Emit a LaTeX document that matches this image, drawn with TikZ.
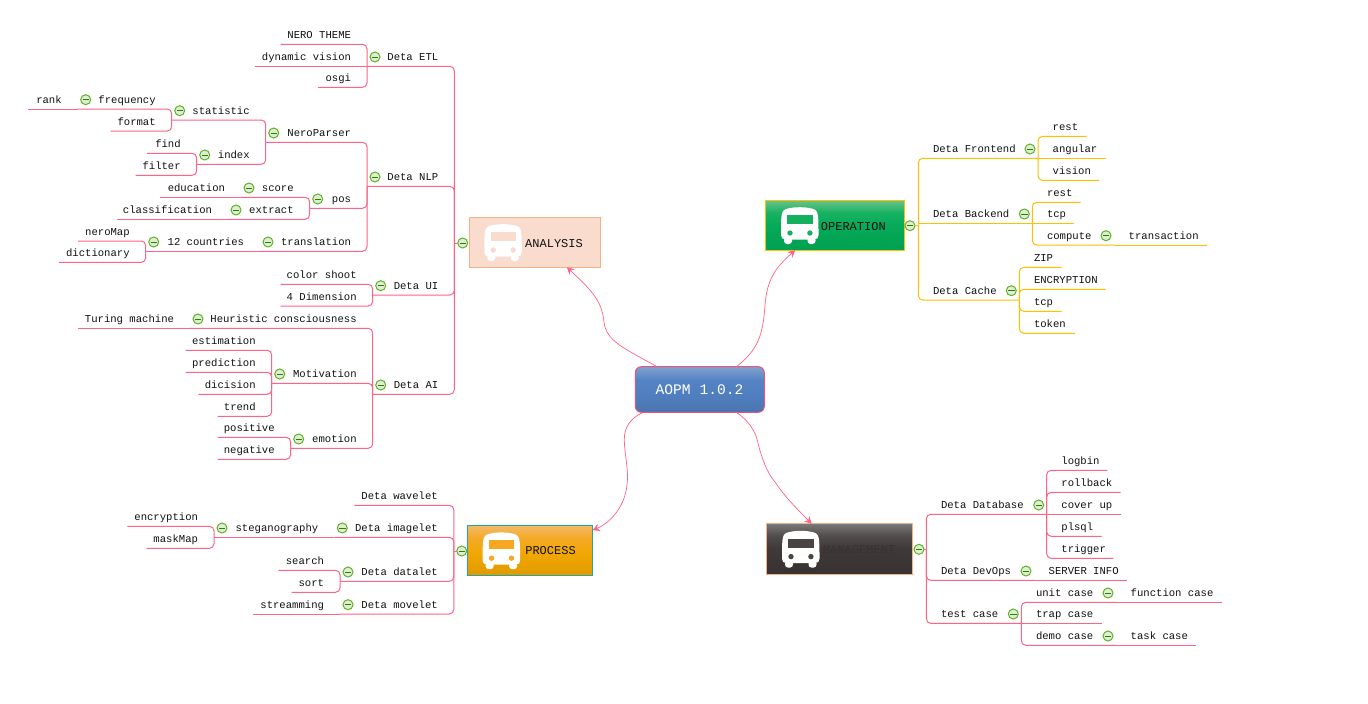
\documentclass[tikz,border=0pt]{standalone}
\usepackage{fontspec}
\setmainfont{Liberation Mono}
\usetikzlibrary{arrows.meta}
\definecolor{linkpink}{HTML}{FF6386}
\definecolor{linkorange}{HTML}{FFC000}
\definecolor{markgreen}{HTML}{62B02A}
\definecolor{markfill}{HTML}{DDEFD0}
\definecolor{markdash}{HTML}{2F7A12}
\definecolor{inktext}{HTML}{111111}
\definecolor{peachfill}{HTML}{F9DCCE}
\definecolor{peachline}{HTML}{F4B183}
\definecolor{opwin}{HTML}{14B060}
\definecolor{procwin}{HTML}{F6A821}
\definecolor{procline}{HTML}{1FA5A5}
\definecolor{mgmtwin}{HTML}{4A4443}
\definecolor{rootline}{HTML}{E8557A}
\definecolor{rootA}{HTML}{4A74B0}
\definecolor{rootB}{HTML}{507FC0}
\definecolor{rootC}{HTML}{5482C2}
\definecolor{rootD}{HTML}{80A2D2}
\definecolor{opA}{HTML}{00A050}
\definecolor{opB}{HTML}{06AA58}
\definecolor{opC}{HTML}{18B262}
\definecolor{opD}{HTML}{68C288}
\definecolor{prA}{HTML}{E09A00}
\definecolor{prB}{HTML}{F0A600}
\definecolor{prC}{HTML}{F5AA28}
\definecolor{prD}{HTML}{F2BA68}
\definecolor{mgA}{HTML}{383332}
\definecolor{mgB}{HTML}{3E3837}
\definecolor{mgC}{HTML}{504C4B}
\definecolor{mgD}{HTML}{7A7878}
\pgfdeclareverticalshading{rootgrad}{100bp}{color(0bp)=(rootA);color(25bp)=(rootA);color(45bp)=(rootB);color(60bp)=(rootC);color(75bp)=(rootD);color(100bp)=(rootD)}
\pgfdeclareverticalshading{opgrad}{100bp}{color(0bp)=(opA);color(25bp)=(opA);color(50bp)=(opB);color(63bp)=(opC);color(75bp)=(opD);color(100bp)=(opD)}
\pgfdeclareverticalshading{procgrad}{100bp}{color(0bp)=(prA);color(25bp)=(prA);color(45bp)=(prB);color(63bp)=(prC);color(75bp)=(prD);color(100bp)=(prD)}
\pgfdeclareverticalshading{mgmtgrad}{100bp}{color(0bp)=(mgA);color(25bp)=(mgA);color(50bp)=(mgB);color(63bp)=(mgC);color(75bp)=(mgD);color(100bp)=(mgD)}
\tikzset{
  x=1pt,y=-1pt,
  topicnode/.style={inner sep=0pt,outer sep=0pt,anchor=south,text height=10pt,text depth=6pt,font=\fontsize{10.6}{12}\selectfont,text=inktext},
  collapse/.style={circle,draw=markgreen,line width=1pt,fill=markfill,minimum size=10pt,inner sep=0pt,outer sep=0pt,
    path picture={\draw[markdash,line width=1pt] ([xshift=-3.2pt]path picture bounding box.center) -- ([xshift=3.2pt]path picture bounding box.center);}},
  pinklink/.style={draw=linkpink,line width=1pt,rounded corners=4.5pt},
  orangelink/.style={draw=linkorange,line width=1pt,rounded corners=4.5pt},
  relation/.style={draw=linkpink,line width=0.7pt,-{Stealth[length=7pt,width=7.5pt]}},
  boxnode/.style={inner sep=0pt,outer sep=0pt,line width=1pt,font=\fontsize{12}{14}\selectfont,text=inktext},
  pics/busicon/.style={code={
    \fill[white,rounded corners=3pt] (3,30) rectangle (11,37);
    \fill[white,rounded corners=3pt] (26.5,30) rectangle (34.5,37);
    \fill[white] (0,28) .. controls (0,6) and (0,3) .. (7,1.5) .. controls (15,-0.3) and (22.5,-0.3) .. (30.5,1.5) .. controls (37.5,3) and (37.5,6) .. (37.5,28) .. controls (37.5,31) and (36,32.5) .. (33,32.5) -- (4.5,32.5) .. controls (1.5,32.5) and (0,31) .. (0,28) -- cycle;
    \fill[#1] (6.3,8) rectangle (31.7,17);
    \fill[#1] (9,26) circle (2.7);
    \fill[#1] (28.9,26) circle (2.7);
  }}
}
% left-side topic: name, x1, x2, y, text (text ends 16 short of x2)
\newcommand{\ltopic}[5]{%
  \pgfmathsetlengthmacro{\tw}{(#3)-(#2)}\pgfmathsetmacro{\tc}{((#2)+(#3))/2}%
  \node[topicnode] (#1) at (\tc,#4) {\hbox to \tw{\hss #5\hskip 16pt\relax}};}
% right-side topic: text starts 14.7 after x1
\newcommand{\rtopic}[5]{%
  \pgfmathsetlengthmacro{\tw}{(#3)-(#2)}\pgfmathsetmacro{\tc}{((#2)+(#3))/2}%
  \node[topicnode] (#1) at (\tc,#4) {\hbox to \tw{\hskip 14.7pt\relax #5\hss}};}
% collapse marker sitting at a topic's inner end
\newcommand{\lmark}[1]{\node[collapse,xshift=8pt,yshift=9.3pt] (#1-m) at (#1.south west) {};}
\newcommand{\rmark}[1]{\node[collapse,xshift=-8pt,yshift=9.3pt] (#1-m) at (#1.south east) {};}
% elbow links, and straight links for a child on its parent's line
\newcommand{\llink}[2]{\draw[pinklink] (#1.south west) -| (#2);}
\newcommand{\lline}[2]{\draw[pinklink] (#1.south west) -- (#2.south west);}
\newcommand{\rlink}[3][pinklink]{\draw[#1] (#2.south east) -| (#3);}
\newcommand{\rline}[3][pinklink]{\draw[#1] (#2.south east) -- (#3.south east);}
\begin{document}
\begin{tikzpicture}
\useasboundingbox (0,0) rectangle (1368,704);
\fill[white] (0,0) rectangle (1368,704);

% ---------- ANALYSIS ----------
\coordinate (antrunk) at (454.3,243);
\ltopic{etl}{367}{454.3}{66.3}{Deta ETL}
\ltopic{nero}{280.7}{367}{44.3}{NERO THEME}
\ltopic{dyn}{255}{367}{66.3}{dynamic vision}
\ltopic{osgi}{318}{367}{87.3}{osgi}
\ltopic{nlp}{367}{454.3}{186.3}{Deta NLP}
\ltopic{parser}{265.7}{367}{142.3}{NeroParser}
\ltopic{stat}{171.7}{265.7}{120}{statistic}
\ltopic{freq}{77.7}{171.7}{109}{frequency}
\ltopic{rank}{28.3}{77.7}{109}{rank}
\ltopic{format}{110.7}{171.7}{131}{format}
\ltopic{index}{196.7}{265.7}{164.3}{index}
\ltopic{find}{147}{196.7}{153.3}{find}
\ltopic{filter}{135.7}{196.7}{175.3}{filter}
\ltopic{pos}{309.7}{367}{208.3}{pos}
\ltopic{score}{241}{309.7}{197.3}{score}
\ltopic{educ}{160}{241}{197.3}{education}
\ltopic{extract}{228}{309.7}{219.3}{extract}
\ltopic{classif}{116.7}{228}{219.3}{classification}
\ltopic{transl}{260}{367}{251.3}{translation}
\ltopic{countries}{145.7}{260}{251.3}{12 countries}
\ltopic{neromap}{78}{145.7}{241}{neroMap}
\ltopic{dict}{59}{145.7}{262.3}{dictionary}
\ltopic{dui}{372.7}{454.3}{295}{Deta UI}
\ltopic{color}{280.7}{372.7}{284.3}{color shoot}
\ltopic{dim}{280.7}{372.7}{306}{4 Dimension}
\ltopic{dai}{372.7}{454.3}{394.3}{Deta AI}
\ltopic{heur}{190}{372.7}{328.3}{Heuristic consciousness}
\ltopic{turing}{78.3}{190}{328.3}{Turing machine}
\ltopic{motiv}{271.7}{372.7}{383.3}{Motivation}
\ltopic{estim}{185.7}{271.7}{350.3}{estimation}
\ltopic{pred}{185.7}{271.7}{372.3}{prediction}
\ltopic{dicis}{198.3}{271.7}{394.3}{dicision}
\ltopic{trend}{217.7}{271.7}{416.3}{trend}
\ltopic{emotion}{290.7}{372.7}{448.3}{emotion}
\ltopic{posit}{217.7}{290.7}{437.3}{positive}
\ltopic{negat}{217.7}{290.7}{459.3}{negative}

\llink{etl}{antrunk}\llink{nlp}{antrunk}\llink{dui}{antrunk}\llink{dai}{antrunk}
\llink{nero}{etl.south west}\lline{dyn}{etl}\llink{osgi}{etl.south west}
\llink{parser}{nlp.south west}\llink{pos}{nlp.south west}\llink{transl}{nlp.south west}
\llink{stat}{parser.south west}\llink{index}{parser.south west}
\llink{freq}{stat.south west}\llink{format}{stat.south west}
\lline{rank}{freq}
\llink{find}{index.south west}\llink{filter}{index.south west}
\llink{score}{pos.south west}\llink{extract}{pos.south west}
\lline{educ}{score}\lline{classif}{extract}
\lline{countries}{transl}
\llink{neromap}{countries.south west}\llink{dict}{countries.south west}
\llink{color}{dui.south west}\llink{dim}{dui.south west}
\llink{heur}{dai.south west}\llink{motiv}{dai.south west}\llink{emotion}{dai.south west}
\lline{turing}{heur}
\llink{estim}{motiv.south west}\llink{pred}{motiv.south west}\llink{dicis}{motiv.south west}\llink{trend}{motiv.south west}
\llink{posit}{emotion.south west}\llink{negat}{emotion.south west}

\lmark{etl}\lmark{nlp}\lmark{parser}\lmark{stat}\lmark{freq}\lmark{index}\lmark{pos}\lmark{score}\lmark{extract}\lmark{transl}\lmark{countries}\lmark{dui}\lmark{dai}\lmark{heur}\lmark{motiv}\lmark{emotion}

% ---------- PROCESS ----------
\coordinate (prtrunk) at (453.8,551);
\ltopic{wave}{354.3}{453.8}{505.3}{Deta wavelet}
\ltopic{image}{334.3}{453.8}{537.3}{Deta imagelet}
\ltopic{stega}{214}{334.3}{537.3}{steganography}
\ltopic{encr}{127.3}{214}{526.3}{encryption}
\ltopic{mask}{146.7}{214}{548.3}{maskMap}
\ltopic{datal}{340}{453.8}{581.3}{Deta datalet}
\ltopic{search}{278.3}{340}{570.3}{search}
\ltopic{sort}{291.7}{340}{592.3}{sort}
\ltopic{movel}{340}{453.8}{614}{Deta movelet}
\ltopic{stream}{253.3}{340}{614}{streamming}
\llink{wave}{prtrunk}\llink{image}{prtrunk}\llink{datal}{prtrunk}\llink{movel}{prtrunk}
\lline{stega}{image}
\llink{encr}{stega.south west}\llink{mask}{stega.south west}
\llink{search}{datal.south west}\llink{sort}{datal.south west}
\lline{stream}{movel}
\lmark{image}\lmark{stega}\lmark{datal}\lmark{movel}

% ---------- OPERATION ----------
\coordinate (optrunk) at (918.3,225.5);
\rtopic{front}{918.3}{1038}{158.3}{Deta Frontend}
\rtopic{rest}{1038}{1086.7}{136.3}{rest}
\rtopic{angular}{1038}{1105.7}{158.3}{angular}
\rtopic{vision}{1038}{1099.3}{180.3}{vision}
\rtopic{back}{918.3}{1032.3}{223.3}{Deta Backend}
\rtopic{restb}{1032.3}{1080.7}{202.3}{rest}
\rtopic{tcp}{1032.3}{1074.3}{223.3}{tcp}
\rtopic{compute}{1032.3}{1114}{245}{compute}
\rtopic{trans}{1114}{1206.7}{245}{transaction}
\rtopic{cache}{918.3}{1019.3}{300}{Deta Cache}
\rtopic{zip}{1019.3}{1061.7}{267.3}{ZIP}
\rtopic{encryp}{1019.3}{1105.7}{289.3}{ENCRYPTION}
\rtopic{tcpb}{1019.3}{1061.7}{311.3}{tcp}
\rtopic{token}{1019.3}{1075}{333.3}{token}
\rlink[orangelink]{front}{optrunk}\draw[orangelink] (back.south east) -- (back.south west);\rlink[orangelink]{cache}{optrunk}
\rlink[orangelink]{rest}{front.south east}\rline[orangelink]{angular}{front}\rlink[orangelink]{vision}{front.south east}
\rlink[orangelink]{restb}{back.south east}\rline[orangelink]{tcp}{back}\rlink[orangelink]{compute}{back.south east}
\rline[orangelink]{trans}{compute}
\rlink[orangelink]{zip}{cache.south east}\rlink[orangelink]{encryp}{cache.south east}\rlink[orangelink]{tcpb}{cache.south east}\rlink[orangelink]{token}{cache.south east}
\rmark{front}\rmark{back}\rmark{compute}\rmark{cache}

% ---------- MANAGEMENT ----------
\coordinate (mgtrunk) at (926.3,549.3);
\rtopic{dbase}{926.3}{1046.7}{514.3}{Deta Database}
\rtopic{logbin}{1046.7}{1107.3}{470.3}{logbin}
\rtopic{rollb}{1046.7}{1120.7}{492.3}{rollback}
\rtopic{coverup}{1046.7}{1120.7}{514.3}{cover up}
\rtopic{plsql}{1046.7}{1101.7}{536.3}{plsql}
\rtopic{trigger}{1046.7}{1113.3}{558.3}{trigger}
\rtopic{devops}{926.3}{1034}{580.3}{Deta DevOps}
\rtopic{server}{1034}{1126.7}{580.3}{SERVER INFO}
\rtopic{testc}{926.3}{1021.3}{623.3}{test case}
\rtopic{unit}{1021.3}{1116}{602.3}{unit case}
\rtopic{func}{1116}{1221.7}{602.3}{function case}
\rtopic{trap}{1021.3}{1101.7}{623.3}{trap case}
\rtopic{demo}{1021.3}{1116}{645.3}{demo case}
\rtopic{task}{1116}{1195.7}{645.3}{task case}
\rlink{dbase}{mgtrunk}\rlink{devops}{mgtrunk}\rlink{testc}{mgtrunk}
\rlink{logbin}{dbase.south east}\rlink{rollb}{dbase.south east}\rline{coverup}{dbase}\rlink{plsql}{dbase.south east}\rlink{trigger}{dbase.south east}
\rline{server}{devops}
\rlink{unit}{testc.south east}\rline{trap}{testc}\rlink{demo}{testc.south east}
\rline{func}{unit}\rline{task}{demo}
\rmark{dbase}\rmark{devops}\rmark{testc}\rmark{unit}\rmark{demo}

% ---------- central boxes ----------
\node[boxnode,minimum width=131.4pt,minimum height=50pt,draw=peachline,fill=peachfill] (analysis) at (535,242.3) {};
\node[boxnode,minimum width=139pt,minimum height=49.6pt,draw=linkorange,shading=opgrad] (operation) at (834.8,225.5) {};
\node[boxnode,minimum width=125.4pt,minimum height=49.6pt,draw=procline,shading=procgrad] (process) at (530,550.5) {};
\node[boxnode,minimum width=146pt,minimum height=50.6pt,draw=peachline,shading=mgmtgrad] (management) at (839.7,549) {};
\node[boxnode,minimum width=129pt,minimum height=45.6pt,rounded corners=6pt,draw=rootline,shading=rootgrad] (root) at (699.8,389.5) {};

\pic at (484.3,224) {busicon=peachfill};
\pic at (781,207) {busicon=opwin};
\pic at (482.6,532.2) {busicon=procwin};
\pic at (782,530.6) {busicon=mgmtwin};

\node[boxnode] (analysis-t) at (554,243.5) {ANALYSIS};
\node[boxnode] (operation-t) at (853.3,226.7) {OPERATION};
\node[boxnode] (process-t) at (550.5,550.5) {PROCESS};
\node[boxnode,text=mgA] (management-t) at (859,549.3) {MANAGEMENT};
\node[boxnode,font=\fontsize{14.6}{16}\selectfont,text=white] (root-t) at (699.5,390) {AOPM 1.0.2};

\node[collapse] (analysis-m) at (462.7,243) {};
\node[collapse] (operation-m) at (910,225.7) {};
\node[collapse] (process-m) at (461.7,551) {};
\node[collapse] (management-m) at (919,549.3) {};
\draw[pinklink] (analysis-m) -- (antrunk);
\draw[orangelink] (operation-m) -- (optrunk);
\draw[pinklink] (process-m) -- (prtrunk);
\draw[pinklink] (management-m) -- (mgtrunk);

% ---------- relations from the root ----------
\draw[relation] (root.152) .. controls (628,350) and (606,342) .. (604,322) .. controls (602,300) and (590,289) .. (analysis.-38);
\draw[relation] (root.32) .. controls (758,350) and (763,335) .. (765,305) .. controls (767,280) and (775,268) .. (operation.-148);
\draw[relation] (root.202) .. controls (630,418) and (624,428) .. (624.3,440) .. controls (624.5,455) and (629,470) .. (627,485) .. controls (625,505) and (612,522) .. (process.18);
\draw[relation] (root.328) .. controls (748,420) and (754,430) .. (756.7,438) .. controls (760,452) and (765,470) .. (775,482) .. controls (785,497) and (798,510) .. (management.138);
\end{tikzpicture}
\end{document}
